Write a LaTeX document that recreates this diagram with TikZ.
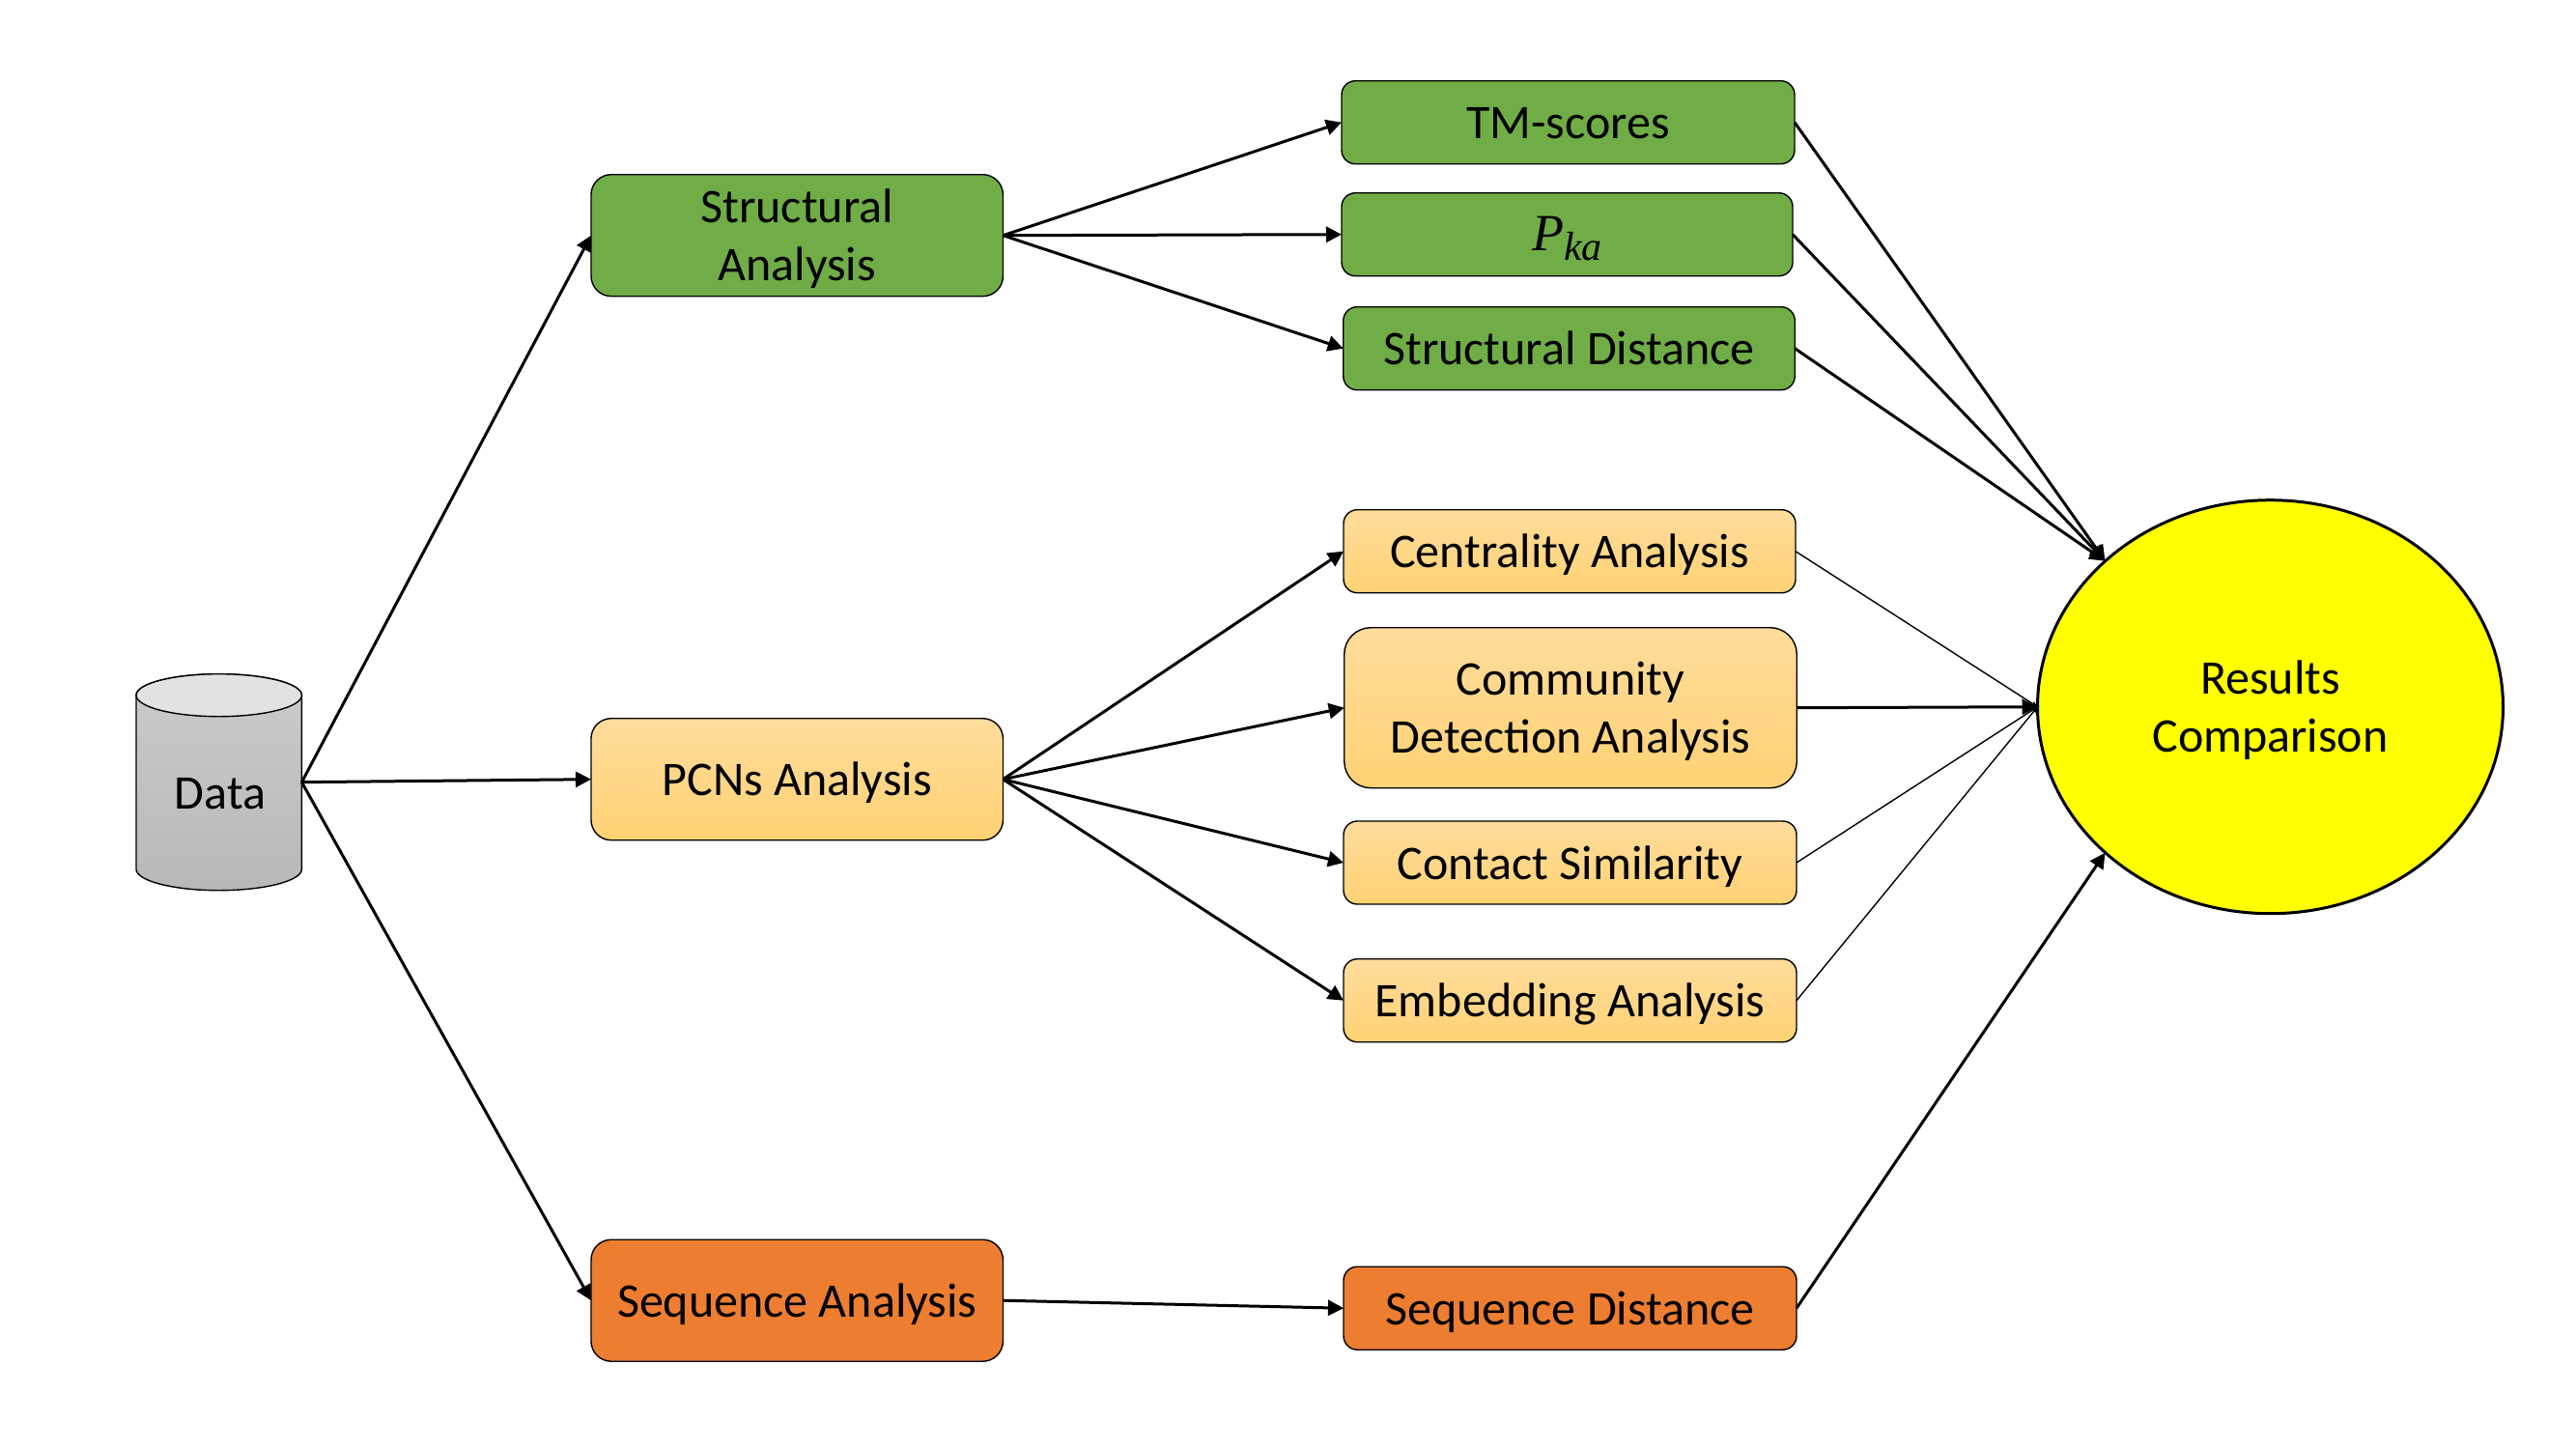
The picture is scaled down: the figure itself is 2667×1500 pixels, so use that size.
\documentclass[tikz,border=0pt]{standalone}
\usepackage{fontspec}
\setmainfont{Carlito}
\newfontfamily\mathlike{Liberation Serif}
\usetikzlibrary{arrows.meta,shapes.geometric}
\definecolor{grn}{HTML}{70AD47}
\definecolor{org}{HTML}{ED7D31}
\definecolor{lorgT}{HTML}{FFDC9C}
\definecolor{lorgB}{HTML}{FFD274}
\definecolor{cylT}{HTML}{CBCBCB}
\definecolor{cylB}{HTML}{B8B8B8}
\definecolor{cylE}{HTML}{E2E2E2}
\definecolor{resY}{HTML}{FFFF00}
\newcommand{\st}{\rule[-12.9pt]{0pt}{60pt}}
\tikzset{
  txt/.style={inner sep=0pt,outer sep=0pt,align=center,font=\fontsize{50}{60}\selectfont,text=black},
  bx/.style={txt,draw=black,line width=1.4pt,minimum width=#1},
  smallbx/.style={bx=#1,minimum height=86pt,rounded corners=14.3pt},
  bigbx/.style={bx=426.5pt,minimum height=126pt,rounded corners=21pt},
  commbx/.style={bx=#1,minimum height=166pt,rounded corners=27.6pt},
  greenf/.style={fill=grn},
  orangef/.style={fill=org},
  lightf/.style={top color=lorgT,bottom color=lorgB},
  conn/.style={line width=3pt,-{Triangle[length=16pt,width=16pt]}},
  thinconn/.style={line width=1.4pt,-{Triangle[length=6pt,width=5pt]}},
}
\begin{document}
\begin{tikzpicture}[x=1pt,y=-1pt]
\path[use as bounding box,fill=white] (0,0) rectangle (2667,1500);
\begin{scope}[yshift=-0.7pt]
% cylinder
\draw[line width=1.4pt,top color=cylT,bottom color=cylB] (141,719) -- (141,899)
  arc[start angle=180,end angle=360,x radius=85.7pt,y radius=22pt] -- (312.4,719)
  arc[start angle=0,end angle=180,x radius=85.7pt,y radius=22pt] -- cycle;
\draw[line width=1.4pt,fill=cylE] (226.7,719) ellipse [x radius=85.7pt,y radius=22pt];
\node[inner sep=0pt,outer sep=0pt,minimum width=171.4pt,minimum height=224pt] (data) at (226.7,809) {};
\node[txt] (datatxt) at (228,820) {\st Data};
% first level
\node[bigbx,greenf] (sa) at (825.2,243) {\st Structural\\\st Analysis};
\node[bigbx,lightf] (pcn) at (825.2,806) {\st PCNs Analysis};
\node[bigbx,orangef] (seq) at (825.2,1345.5) {\st Sequence Analysis};
% second level
\node[smallbx=469pt,greenf] (tm) at (1623.5,126) {\st TM-scores};
\node[smallbx=467pt,greenf] (pka) at (1622.5,242) {\st{\mathlike\itshape\fontsize{54}{60}\selectfont P\raisebox{-10pt}{\fontsize{42}{44}\selectfont ka}}};
\node[smallbx=467.5pt,greenf] (sd) at (1624.5,360) {\st Structural Distance};
\node[smallbx=468pt,lightf] (cen) at (1625,570) {\st Centrality Analysis};
\node[commbx=468.5pt,lightf] (com) at (1626,732) {\st Community\\\st Detection Analysis};
\node[smallbx=469pt,lightf] (con) at (1625.5,892.3) {\st Contact Similarity};
\node[smallbx=469pt,lightf] (emb) at (1625.5,1035) {\st Embedding Analysis};
\node[smallbx=469pt,orangef] (sqd) at (1625.5,1353.5) {\st Sequence Distance};
% results
\node[txt,ellipse,draw=black,line width=3pt,fill=resY,minimum width=482pt,minimum height=428pt] (res) at (2350.5,731) {\st Results\\\st Comparison};
\coordinate (resTL) at (2179.5,580);
\coordinate (resBL) at (2179.5,882);
% connectors
\draw[conn] (data.east) -- (sa.west);
\draw[conn] (data.east) -- (pcn.west);
\draw[conn] (data.east) -- (seq.west);
\draw[conn] (sa.east) -- (tm.west);
\draw[conn] (sa.east) -- (pka.west);
\draw[conn] (sa.east) -- (sd.west);
\draw[conn] (pcn.east) -- (cen.west);
\draw[conn] (pcn.east) -- (com.west);
\draw[conn] (pcn.east) -- (con.west);
\draw[conn] (pcn.east) -- (emb.west);
\draw[conn] (seq.east) -- (sqd.west);
\draw[conn] (tm.east) -- (resTL);
\draw[conn] (pka.east) -- (resTL);
\draw[conn] (sd.east) -- (resTL);
\draw[thinconn] (cen.east) -- (res.west);
\draw[conn] (com.east) -- (res.west);
\draw[thinconn] (con.east) -- (res.west);
\draw[thinconn] (emb.east) -- (res.west);
\draw[conn] (sqd.east) -- (resBL);
\end{scope}
\end{tikzpicture}
\end{document}
